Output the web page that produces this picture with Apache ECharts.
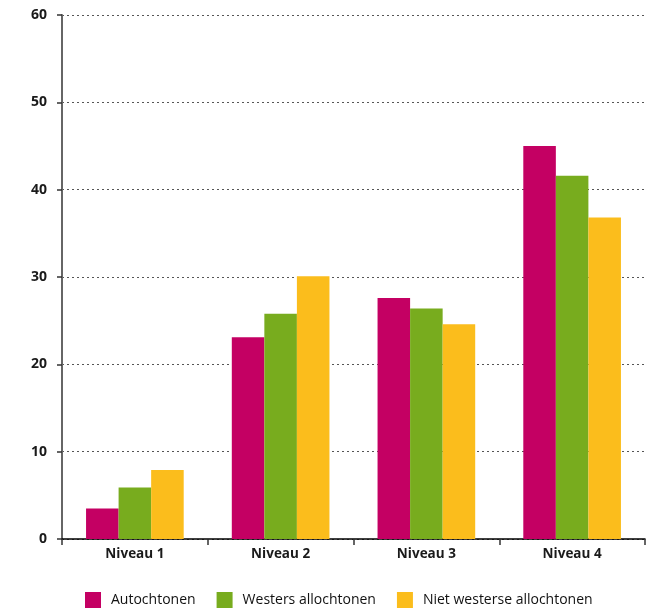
<!DOCTYPE html>
<html>
<head>
<meta charset="utf-8">
<script src="https://cdn.jsdelivr.net/npm/echarts@6/dist/echarts.min.js"></script>
<style>
  html, body { margin: 0; padding: 0; background: #fff; }
  #chart { width: 657px; height: 612px; }
</style>
</head>
<body>
<div id="chart"></div>
<script>
var categories = ['Niveau 1', 'Niveau 2', 'Niveau 3', 'Niveau 4'];
var autochtonen = [3.5, 23.1, 27.6, 45.0];
var westers = [5.9, 25.8, 26.4, 41.6];
var nietWesters = [7.9, 30.1, 24.6, 36.8];
var seriesNames = ['Autochtonen', 'Westers allochtonen', 'Niet westerse allochtonen'];
var colors = ['#c40063', '#78ac1e', '#fbbd1c'];

var chart = echarts.init(document.getElementById('chart'));

var option = {
    animation: false,
    color: colors,
    textStyle: {fontFamily: 'Open Sans'},
    grid: {
        left: 62,
        right: 12,
        top: 15,
        bottom: 73
    },
    legend: {
        left: 85,
        top: 592,
        padding: 0,
        itemWidth: 16,
        itemHeight: 16,
        itemGap: 21,
        icon: 'rect',
        textStyle: {
            color: '#111',
            fontSize: 14,
            padding: [0, 0, 0, 5]
        },
        data: seriesNames
    },
    xAxis: {
        type: 'category',
        data: categories,
        axisLine: {lineStyle: {color: '#000', width: 1.5}},
        axisTick: {show: true, length: 6, lineStyle: {color: '#333', width: 1.5}},
        axisLabel: {color: '#1a1a1a', fontSize: 13.5, fontWeight: 'bold', margin: 8}
    },
    yAxis: {
        type: 'value',
        min: 0,
        max: 60,
        interval: 10,
        axisLine: {show: true, lineStyle: {color: '#666', width: 2}},
        axisTick: {show: true, length: 5, lineStyle: {color: '#333', width: 1.5}},
        axisLabel: {color: '#1a1a1a', fontSize: 14, fontWeight: 'bold', margin: 15},
        splitLine: {lineStyle: {color: '#555', type: [2, 3], width: 1}}
    },
    series: [
        {name: seriesNames[0], type: 'bar', data: autochtonen, barGap: '0%', barCategoryGap: '33%'},
        {name: seriesNames[1], type: 'bar', data: westers, barGap: '0%', barCategoryGap: '33%'},
        {name: seriesNames[2], type: 'bar', data: nietWesters, barGap: '0%', barCategoryGap: '33%'}
    ]
};

chart.setOption(option);
</script>
</body>
</html>
